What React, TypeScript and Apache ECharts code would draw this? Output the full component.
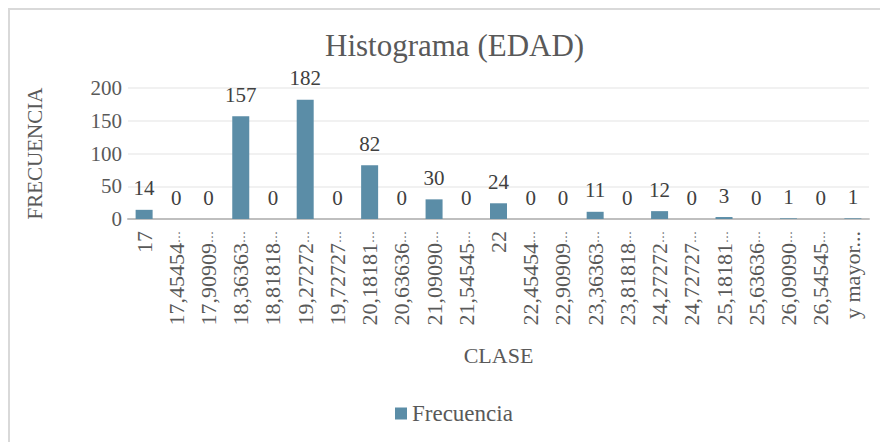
import React, { useEffect, useRef } from "react";
import * as echarts from "echarts";

const categories = [
  "17", "17,45454…", "17,90909…", "18,36363…", "18,81818…", "19,27272…",
  "19,72727…", "20,18181…", "20,63636…", "21,09090…", "21,54545…", "22",
  "22,45454…", "22,90909…", "23,36363…", "23,81818…", "24,27272…", "24,72727…",
  "25,18181…", "25,63636…", "26,09090…", "26,54545…", "y mayor...",
];
const frecuencia = [14, 0, 0, 157, 0, 182, 0, 82, 0, 30, 0, 24, 0, 0, 11, 0, 12, 0, 3, 0, 1, 0, 1];
const yTicks = { min: 0, max: 200, interval: 50 };

const FONT = "Liberation Serif";

export default function App() {
  const ref = useRef<HTMLDivElement>(null);
  useEffect(() => {
    if (!ref.current) return;
    const chart = echarts.init(ref.current, undefined, { renderer: "svg" });
    chart.setOption({
      animation: false,
      backgroundColor: "#ffffff",
      textStyle: { fontFamily: FONT },
      title: {
        text: "Histograma (EDAD)",
        left: 320,
        top: 25,
        textStyle: { fontFamily: FONT, fontSize: 31, fontWeight: "normal", color: "#595959" },
      },
      graphic: [
        {
          type: "rect",
          shape: { x: 9, y: 9, width: 900, height: 460 },
          style: { fill: "none", stroke: "#d9d9d9", lineWidth: 2 },
          silent: true,
        },
      ],
      legend: {
        bottom: 12,
        left: 390,
        itemWidth: 12,
        itemHeight: 12,
        icon: "rect",
        itemGap: 6,
        textStyle: { fontFamily: FONT, fontSize: 23, color: "#595959" },
        data: ["Frecuencia"],
      },
      grid: { left: 128, right: 11, top: 88, bottom: 223, containLabel: false },
      xAxis: {
        type: "category",
        data: categories,
        name: "CLASE",
        nameLocation: "middle",
        nameGap: 125,
        nameTextStyle: { fontFamily: FONT, fontSize: 22, color: "#595959" },
        axisLine: { lineStyle: { color: "#bfbfbf", width: 2 } },
        axisTick: { show: false },
        axisLabel: {
          rotate: 90,
          interval: 0,
          margin: 12,
          fontFamily: FONT,
          fontSize: 22,
          color: "#595959",
          formatter: (v: string) =>
            v.endsWith("…") ? "{d|" + v.slice(0, -1) + "}{e|…}" : "{d|" + v + "}",
          rich: {
            d: { fontFamily: FONT, fontSize: 22, color: "#595959" },
            e: { fontFamily: FONT, fontSize: 12, color: "#595959" },
          },
        },
      },
      yAxis: {
        type: "value",
        min: yTicks.min,
        max: yTicks.max,
        interval: yTicks.interval,
        name: "FRECUENCIA",
        nameLocation: "middle",
        nameGap: 83,
        nameTextStyle: { fontFamily: FONT, fontSize: 21, color: "#595959" },
        axisLine: { show: false },
        axisTick: { show: false },
        axisLabel: { fontFamily: FONT, fontSize: 21, color: "#595959", margin: 6 },
        splitLine: { lineStyle: { color: "#ececec", width: 1.5 } },
      },
      series: [
        {
          name: "Frecuencia",
          type: "bar",
          data: frecuencia,
          barWidth: 17,
          itemStyle: { color: "#5B8DA7" },
          label: {
            show: true,
            position: "top",
            distance: 11,
            fontFamily: FONT,
            fontSize: 21,
            color: "#404040",
          },
        },
      ],
    });
    return () => chart.dispose();
  }, []);
  return (
    <div
      ref={ref}
      style={{ position: "fixed", left: 0, top: 0, width: 880, height: 442 }}
    />
  );
}
